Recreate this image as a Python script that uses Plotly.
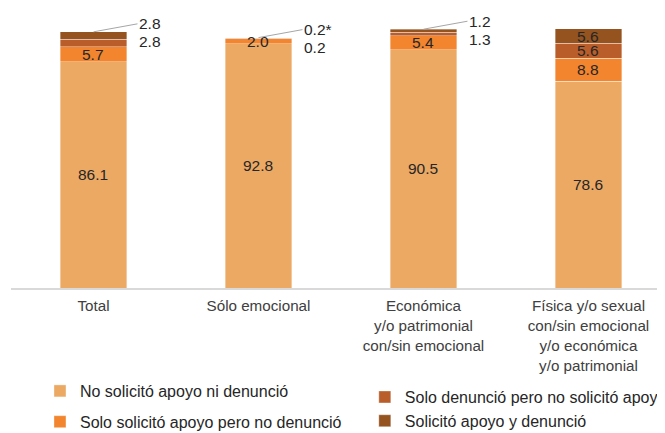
import plotly.graph_objects as go

# ---- data ----
categories = [
    "Total",
    "Sólo emocional",
    "Económica<br>y/o patrimonial<br>con/sin emocional",
    "Física y/o sexual<br>con/sin emocional<br>y/o económica<br>y/o patrimonial",
]
no_solicito = [86.1, 92.8, 90.5, 78.6]
solo_solicito = [5.7, 2.0, 5.4, 8.8]
solo_denuncio = [2.8, 0.2, 1.3, 5.6]
solicito_y_denuncio = [2.8, 0.2, 1.2, 5.6]
top_label_suffix = ["", "*", "", ""]

series_names = [
    "No solicitó apoyo ni denunció",
    "Solo solicitó apoyo pero no denunció",
    "Solo denunció pero no solicitó apoyo",
    "Solicitó apoyo y denunció",
]
series_values = [no_solicito, solo_solicito, solo_denuncio, solicito_y_denuncio]

# ---- style ----
colors = ["#EBA964", "#F2852D", "#B95E2B", "#94531F"]
legend_ids = ["legend", "legend", "legend2", "legend2"]
legend_ranks = [1, 2, 1, 2]
FONT = "Liberation Sans, Arial, sans-serif"
BAR_W = 0.405
TXT = "#262626"

fig = go.Figure()
for name, vals, col, lg, rk in zip(series_names, series_values, colors, legend_ids, legend_ranks):
    fig.add_trace(go.Bar(
        x=list(range(len(categories))), y=vals, name=name,
        marker=dict(color=col, line=dict(color="rgba(255,255,255,0.45)", width=0.8)),
        width=BAR_W, legend=lg, legendrank=rk, legendgroup=name,
        hoverinfo="skip",
    ))

annotations = []
for i in range(len(categories)):
    vals = [s[i] for s in series_values]
    total = sum(vals)
    small_top = (vals[2] + vals[3]) < 6
    base = 0.0
    for k, v in enumerate(vals):
        inside = k < 2 or not small_top
        if inside:
            annotations.append(dict(
                x=i, y=base + v / 2, xref="x", yref="y", text=f"{v:.1f}",
                showarrow=False, font=dict(family=FONT, size=15.5, color=TXT),
            ))
        base += v
    if small_top:
        # top segment label with leader line
        annotations.append(dict(
            x=i, y=total, xref="x", yref="y",
            text=f"{vals[3]:.1f}{top_label_suffix[i]}",
            showarrow=True, arrowhead=0, arrowwidth=1, arrowcolor="#A6A6A6",
            ax=44, ay=-8, xanchor="left", yanchor="middle",
            font=dict(family=FONT, size=15.5, color=TXT),
        ))
        annotations.append(dict(
            x=i + BAR_W / 2, y=total, xref="x", yref="y",
            text=f"{vals[2]:.1f}", showarrow=False,
            xanchor="left", yanchor="middle", xshift=10, yshift=-10,
            font=dict(family=FONT, size=15.5, color=TXT),
        ))

# page body has an 8px default margin; figure sized to fit the 665x433 window
fig.update_layout(
    width=657, height=425,
    margin=dict(l=3, r=0, t=17, b=145, autoexpand=False),
    barmode="stack",
    plot_bgcolor="white", paper_bgcolor="white",
    font=dict(family=FONT, size=15.5, color=TXT),
    annotations=annotations,
    showlegend=True,
    legend=dict(x=0.0443, y=-0.327, xanchor="left", yanchor="top",
                orientation="v", tracegroupgap=7,
                font=dict(family=FONT, size=16, color=TXT), bgcolor="rgba(0,0,0,0)"),
    legend2=dict(x=0.541, y=-0.350, xanchor="left", yanchor="top",
                 orientation="v", tracegroupgap=0,
                 font=dict(family=FONT, size=16, color=TXT), bgcolor="rgba(0,0,0,0)"),
)
fig.update_xaxes(
    range=[-0.5, 3.464], tickmode="array",
    tickvals=list(range(len(categories))), ticktext=categories,
    showline=True, linecolor="#D9D9D9", linewidth=2, showgrid=False,
    ticks="", ticklabelstandoff=3,
    tickfont=dict(family=FONT, size=15.2, color="#404040"),
    zeroline=False, fixedrange=True,
)
fig.update_yaxes(range=[0, 100], visible=False, showgrid=False, fixedrange=True)

fig.write_html("out.html")
